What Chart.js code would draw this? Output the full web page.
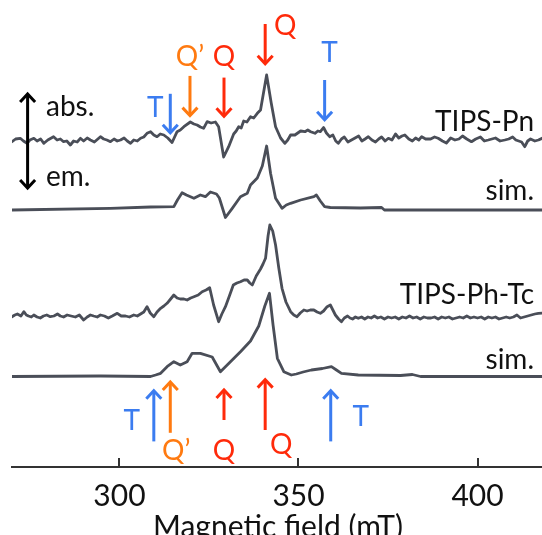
<!DOCTYPE html>
<html>
<head>
<meta charset="utf-8">
<script src="https://cdn.jsdelivr.net/npm/chart.js@4.4.1/dist/chart.umd.min.js"></script>
<style>
  html, body { margin: 0; padding: 0; background: #fff; }
  #wrap { width: 542px; height: 535px; }
</style>
</head>
<body>
<div id="wrap"><canvas id="c"></canvas></div>
<script>
// field (mT) and signal for every trace
const pnField = [270.0,271.0,272.3,273.2,274.2,275.0,276.1,277.0,278.0,278.9,280.0,281.6,282.6,283.5,284.4,285.3,286.3,287.2,288.2,289.1,290.0,291.0,291.9,293.0,294.7,295.6,296.5,297.5,298.5,299.4,300.3,301.3,302.2,303.1,304.0,305.0,305.9,306.8,307.7,308.7,309.6,310.5,311.4,312.4,313.5,314.7,316.1,317.0,318.0,319.8,320.8,321.7,322.6,323.5,324.5,325.6,326.8,327.7,329.1,330.5,331.9,332.6,333.3,334.0,334.7,335.6,336.6,337.5,338.5,339.4,341.1,342.4,343.6,345.0,346.2,347.0,347.8,349.0,349.8,350.6,351.8,352.6,353.4,354.6,355.4,356.1,357.0,357.8,358.7,359.6,360.4,361.1,362.0,362.8,363.8,364.8,365.8,366.8,367.7,368.6,369.5,370.5,371.5,372.4,373.2,374.2,375.1,376.1,377.1,378.0,378.9,379.7,380.8,381.8,382.7,383.6,384.4,385.5,386.9,388.0,389.0,390.2,391.3,392.5,393.7,394.8,395.8,397.0,398.3,399.5,400.8,401.9,403.0,404.0,405.0,406.3,407.6,408.7,409.8,410.7,411.5,412.3,413.2,414.0,414.8,416.0,417.0,418.2];
const pnSignal = [-1.7,1,1.7,-1,-3.3,0,1.7,-1,1,-3.3,0,3.3,0,1,-1.7,-1,-5,-1,-2,1.7,-1,2,0,-2,3.3,1,0,-1.7,1,-1,0,2,-1,-3.3,0,-1,1.7,3,6.7,8.3,5,3.3,6,5,2,-2.5,8.3,10,13.3,18,16,15,13,11.7,18.3,17,18,13.3,-17,-6.7,6,9,13.3,12,19,18,23.3,22,26.7,30,65,36.7,13.3,2,-3.3,0,5,5,7,9,8.3,10,8.3,6.7,9,8.3,12.5,7,3.3,5,-1,-3.3,1,3,-2,0,2,4,-1,1,3.3,0,-2,1,3,-1,1.7,0,6,2,4,5,1,-1,2,0,3.3,1,1,3,1.7,-1,-3,2,0,1,4,1,-1.7,1,3,-1,0,1,2,-1,0,1,3,0,-1,-2,-6.7,-1,1,-1,0,2];

const pnSimField = [270.0,297.5,308.7,315.2,316.2,317.5,318.7,320.8,322.6,324.0,325.4,327.1,327.9,329.6,331.5,333.8,335.7,336.6,338.5,339.9,341.1,342.2,343.6,345.4,346.6,347.8,350.6,354.3,355.0,356.1,357.3,358.9,367.3,373.2,374.0,418.2];
const pnSimSignal = [-1,0.7,2,2.3,9,16.3,14,10.7,14,12.3,17,15,11,-8.5,0.7,12.3,15.7,24,31,43,63,35.7,10.7,0.7,4,5.7,9,12.3,14,8,2.3,1.5,1,1.5,-1,-1];

const tcField = [270.0,270.8,271.5,272.5,273.3,274.0,274.6,275.4,276.1,277.0,277.9,278.8,279.7,280.7,281.7,282.7,283.5,284.4,285.4,286.5,287.7,288.8,290.0,291.0,291.9,292.8,293.8,294.7,295.8,296.9,298.0,299.4,300.5,301.7,302.8,304.0,305.0,305.9,306.8,307.7,308.6,309.6,310.5,311.5,312.4,313.3,314.3,315.2,316.1,317.0,318.0,318.9,319.9,320.8,322.0,323.1,324.2,325.2,326.3,327.7,328.6,329.6,330.7,331.8,332.8,333.8,334.8,335.7,336.4,337.1,338.2,339.4,340.1,340.8,341.5,342.0,342.8,343.6,344.5,345.4,346.5,347.8,348.7,349.6,350.5,351.5,352.4,353.3,354.3,355.2,356.1,357.0,358.0,358.9,359.6,360.3,361.2,362.0,362.8,363.7,364.4,365.1,365.9,366.7,367.6,368.5,369.4,370.3,371.2,372.1,373.0,374.0,375.0,376.0,377.0,378.0,379.0,380.0,381.0,382.0,383.0,384.0,385.0,386.0,387.0,388.0,389.0,390.0,391.0,392.0,393.0,394.0,395.0,396.0,397.0,398.0,399.0,400.0,401.0,402.0,403.0,404.0,405.0,406.0,407.0,408.0,409.0,410.0,411.0,412.0,413.0,414.0,415.0,416.0,417.0,418.2];
const tcSignal = [-0.7,1,2,0,4.3,1,0,-1,1,-1,-2,0,1,-0.7,0,2,0,-1,1,0,-1,1,-4,-1,1,0,-1,1,0,-2,0,2.7,0,0,-1,1,0,2,4,9.3,3,-0.7,4,7.7,10,12.7,17,21,18,17,17,16,18,19.3,21,24.3,26,28.3,11,-5.7,2,9.3,20,31,33,34.3,36,36,33,31,40,47,52,57.7,80,91,85,71,48,27.7,14,4.3,1,-0.7,3,6,5,6,6,4,2.7,5,9.3,11,6,1,-3,-5.7,-2,0,-2,-3,-1,-2.3,-1,-3,-1,-2,0,-2,-1,-3,-1,-2,-1,-3,-1,-2,0,-2,-1,-3,-1,-2,-2,-1,-3,-1,-2,-1,-3,-2,-1,-2,0,-2,-1,-2,-1,-3,-1,-2,-1,-3,-2,-1,-2,-1,1,-2,-1,0,1,2,2.7,3];

const tcSimField = [270.0,294.7,308.7,310.1,311.5,313.3,315.2,317.0,318.9,320.3,322.6,325.9,328.2,331.0,333.8,336.6,338.9,340.6,341.9,342.9,344.1,345.9,348.0,349.4,351.3,353.6,356.7,359.2,360.6,362.0,366.7,378.5,381.8,384.1,418.2];
const tcSimSignal = [0,0.5,0,1.5,3.2,9.8,14.8,11.5,14.8,23.2,23.2,19.5,4.8,14.8,24.8,35.5,50.5,70.5,83.2,51.5,18.2,4.8,1.5,2.5,4.5,6.5,8,9.8,6.5,3.2,1.5,1,2,0,0];

// vertical stacking of the four traces
const traceOffsets = [327, 258, 151, 90.5];
const traceNames = ['TIPS-Pn', 'sim.', 'TIPS-Ph-Tc', 'sim.'];

const tickLabels = [300, 350, 400];

// marker fields (mT): top row points down, bottom row points up
const topMarkers = [
  { f: 314.2, label: 'T', kind: 'T' },
  { f: 319.7, label: 'Q\u2019', kind: 'Qp' },
  { f: 329.2, label: 'Q', kind: 'Q' },
  { f: 340.7, label: 'Q', kind: 'Q' },
  { f: 357.3, label: 'T', kind: 'T' },
];
const bottomMarkers = [
  { f: 309.6, label: 'T', kind: 'T' },
  { f: 314.2, label: 'Q\u2019', kind: 'Qp' },
  { f: 329.2, label: 'Q', kind: 'Q' },
  { f: 340.7, label: 'Q', kind: 'Q' },
  { f: 359.0, label: 'T', kind: 'T' },
];

const colors = { T: '#3b7cf0', Qp: '#ff7a10', Q: '#ff2a0a' };
const lineColor = '#4a4e58';
const FONT = 'Lato, "Open Sans", sans-serif';

const toPoints = (xs, ys, off) => xs.map((v, i) => ({ x: v, y: ys[i] + off }));

const series = [
  [pnField, pnSignal],
  [pnSimField, pnSimSignal],
  [tcField, tcSignal],
  [tcSimField, tcSimSignal],
];

const datasets = series.map((s, i) => ({
  label: traceNames[i],
  data: toPoints(s[0], s[1], traceOffsets[i]),
  borderColor: lineColor,
  borderWidth: 2.8,
  borderJoinStyle: 'round',
  borderCapStyle: 'round',
  pointRadius: 0,
  tension: 0,
  showLine: true,
  fill: false,
}));

function arrow(ctx, x, yTail, yTip, color) {
  const dir = yTip > yTail ? 1 : -1;
  ctx.save();
  ctx.strokeStyle = color;
  ctx.lineWidth = 3;
  ctx.lineCap = 'butt';
  ctx.lineJoin = 'miter';
  ctx.beginPath();
  ctx.moveTo(x, yTail);
  ctx.lineTo(x, yTip - dir * 1.5);
  ctx.stroke();
  ctx.beginPath();
  ctx.moveTo(x - 7.5, yTip - dir * 9);
  ctx.lineTo(x, yTip - dir * 1);
  ctx.lineTo(x + 7.5, yTip - dir * 9);
  ctx.stroke();
  ctx.restore();
}

const overlay = {
  id: 'overlay',
  afterDraw(chart) {
    const { ctx, scales: { x }, chartArea } = chart;
    const base = chartArea.bottom;
    ctx.save();
    // tick marks pointing up into the plot
    ctx.strokeStyle = '#333';
    ctx.lineWidth = 2;
    tickLabels.forEach((t) => {
      const px = Math.round(x.getPixelForValue(t));
      ctx.beginPath();
      ctx.moveTo(px, base);
      ctx.lineTo(px, base - 9);
      ctx.stroke();
    });

    // axis title (runs off the bottom edge like the original)
    ctx.fillStyle = '#111';
    ctx.font = '30px ' + FONT;
    ctx.textAlign = 'center';
    ctx.textBaseline = 'alphabetic';
    ctx.fillText('Magnetic field (mT)', 278, 537);

    // trace names
    ctx.font = '28px ' + FONT;
    ctx.textAlign = 'right';
    ctx.textBaseline = 'middle';
    const nameY = [122, 191, 295, 360];
    traceNames.forEach((n, i) => ctx.fillText(n, 534, nameY[i]));

    // abs./em. double arrow
    ctx.textAlign = 'left';
    ctx.fillText('abs.', 46, 107);
    ctx.fillText('em.', 46, 177);
    arrow(ctx, 27.6, 140, 93, '#000');
    arrow(ctx, 27.6, 140, 189, '#000');

    // markers
    ctx.font = '28px ' + FONT;
    ctx.textAlign = 'center';
    const topGeom = [
      { y0: 93.8, y1: 133.8, lx: -15, ly: 108 },
      { y0: 75.9, y1: 116.6, lx: 0, ly: 57 },
      { y0: 77.6, y1: 117.2, lx: 0, ly: 57 },
      { y0: 24, y1: 64.8, lx: 20, ly: 26 },
      { y0: 80, y1: 120.7, lx: 5, ly: 53 },
    ];
    topMarkers.forEach((m, i) => {
      const px = x.getPixelForValue(m.f);
      const g = topGeom[i];
      arrow(ctx, px, g.y0, g.y1, colors[m.kind]);
      ctx.fillStyle = colors[m.kind];
      ctx.fillText(m.label, px + g.lx, g.ly);
    });
    const botGeom = [
      { y0: 441.4, y1: 389.7, lx: -22, ly: 421 },
      { y0: 432.8, y1: 381, lx: 6, ly: 451 },
      { y0: 420, y1: 389, lx: 0, ly: 451 },
      { y0: 430, y1: 378.6, lx: 16, ly: 445 },
      { y0: 441.4, y1: 389.7, lx: 30, ly: 417 },
    ];
    bottomMarkers.forEach((m, i) => {
      const px = x.getPixelForValue(m.f);
      const g = botGeom[i];
      arrow(ctx, px, g.y0, g.y1, colors[m.kind]);
      ctx.fillStyle = colors[m.kind];
      ctx.fillText(m.label, px + g.lx, g.ly);
    });
    ctx.restore();
  },
};

new Chart(document.getElementById('c'), {
  type: 'scatter',
  data: { datasets },
  options: {
    responsive: true,
    maintainAspectRatio: false,
    animation: false,
    layout: { padding: { left: 12, right: 0, top: 0, bottom: 0 } },
    plugins: { legend: { display: false }, tooltip: { enabled: false } },
    scales: {
      x: {
        type: 'linear',
        min: 270,
        max: 418,
        afterBuildTicks: (s) => { s.ticks = tickLabels.map((v) => ({ value: v })); },
        afterFit: (s) => { s.height = 68; },
        border: { display: true, color: '#333', width: 2 },
        grid: { display: false, drawTicks: false },
        ticks: {
          padding: 11,
          maxRotation: 0,
          color: '#111',
          font: { family: FONT, size: 30 },
        },
      },
      y: {
        display: false,
        min: 0,
        max: 467,
      },
    },
  },
  plugins: [overlay],
});
</script>
</body>
</html>
